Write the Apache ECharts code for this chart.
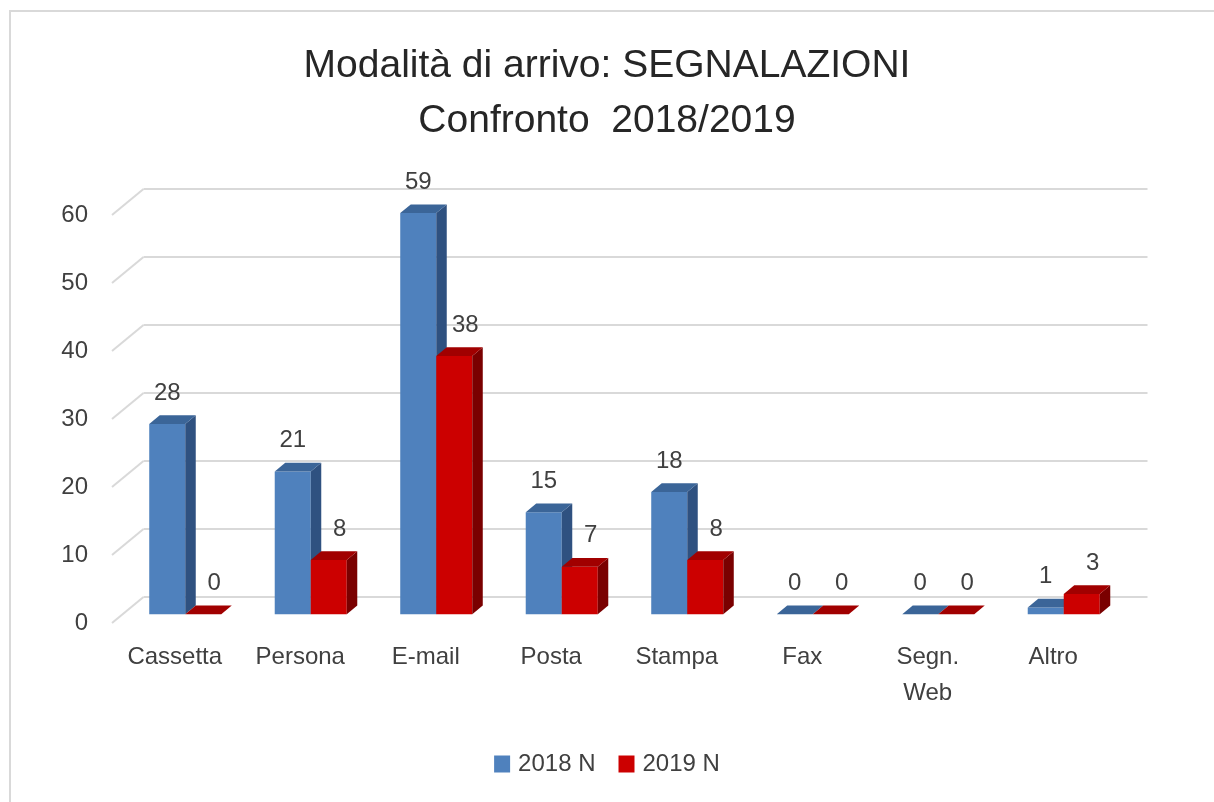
<!DOCTYPE html>
<html>
<head>
<meta charset="utf-8">
<script src="https://cdn.jsdelivr.net/npm/echarts@6/dist/echarts.min.js"></script>
<style>
  html, body { margin: 0; padding: 0; background: #ffffff; }
  #chart { width: 1214px; height: 802px; }
</style>
</head>
<body>
<div id="chart"></div>
<script>
// ---- data ----
const categories = ['Cassetta', 'Persona', 'E-mail', 'Posta', 'Stampa', 'Fax', 'Segn.\nWeb', 'Altro'];
const values2018 = [28, 21, 59, 15, 18, 0, 0, 1];
const values2019 = [0, 8, 38, 7, 8, 0, 0, 3];
const seriesNames = ['2018 N', '2019 N'];
const yTicks = [0, 10, 20, 30, 40, 50, 60];

// ---- styling ----
const FONT = 'Liberation Sans, Arial, sans-serif';
const DX = 10.5, DY = -8.7;           // one depth step of the 3D look
const palettes = [
  { front: '#4f81bd', top: '#3b6598', side: '#2f5180' },
  { front: '#cc0000', top: '#a10000', side: '#7a0000' }
];

const chart = echarts.init(document.getElementById('chart'));

function gridRender(params, api) {
  const cs = params.coordSys;
  const v = api.value(1);
  const y = api.coord([0, v])[1];
  const bx = cs.x + 3 * DX, by = y + 3 * DY;
  return {
    type: 'group',
    children: [
      { type: 'line', shape: { x1: cs.x, y1: y, x2: bx, y2: by },
        style: { stroke: '#d9d9d9', lineWidth: 2 } },
      { type: 'line', shape: { x1: bx, y1: by, x2: cs.x + cs.width + 3 * DX, y2: by },
        style: { stroke: '#d9d9d9', lineWidth: 2 } }
    ]
  };
}

function makeBarRender(sIdx) {
  const pal = palettes[sIdx];
  return function (params, api) {
    const i = api.value(0);
    const v = api.value(1);
    const top = api.coord([i, v]);
    const base = api.coord([i, 0]);
    const band = api.size([1, 0])[0];
    const w = band * 0.287;
    const x0 = (sIdx === 0 ? top[0] - w : top[0]) + DX;
    const yt = top[1] + DY;
    const yb = base[1] + DY;
    const children = [];
    if (yb - yt > 0.5) {
      children.push({ type: 'rect', shape: { x: x0, y: yt, width: w, height: yb - yt },
        style: { fill: pal.front } });
      children.push({ type: 'polygon', shape: { points: [
        [x0 + w, yt], [x0 + w + DX, yt + DY], [x0 + w + DX, yb + DY], [x0 + w, yb]] },
        style: { fill: pal.side } });
    }
    children.push({ type: 'polygon', shape: { points: [
      [x0, yt], [x0 + w, yt], [x0 + w + DX, yt + DY], [x0 + DX, yt + DY]] },
      style: { fill: pal.top } });
    children.push({ type: 'text', style: {
      text: String(v), x: x0 + w / 2 + (sIdx === 1 ? 11 : 0), y: yt - 31,
      align: 'center', verticalAlign: 'middle',
      fontSize: 24, fontFamily: FONT, fill: '#404040' } });
    return { type: 'group', children: children };
  };
}

const option = {
  backgroundColor: '#ffffff',
  animation: false,
  graphic: [{
    type: 'rect', silent: true,
    shape: { x: 10, y: 11, width: 1230, height: 820 },
    style: { fill: 'none', stroke: '#d9d9d9', lineWidth: 2 }
  }],
  title: {
    text: 'Modalità di arrivo: SEGNALAZIONI\nConfronto  2018/2019',
    left: 'center', top: 34,
    textStyle: { fontFamily: FONT, fontSize: 39, fontWeight: 'normal', color: '#262626', lineHeight: 55 }
  },
  legend: {
    data: seriesNames,
    left: 'center', top: 747,
    itemWidth: 16, itemHeight: 17, itemGap: 23, icon: 'rect',
    textStyle: { fontFamily: FONT, fontSize: 24, color: '#404040', padding: [0, 0, 0, 3] }
  },
  grid: { left: 112, right: 98, top: 215, bottom: 179 },
  xAxis: {
    type: 'category', data: categories,
    axisLine: { show: false }, axisTick: { show: false }, splitLine: { show: false },
    axisLabel: { fontFamily: FONT, fontSize: 24, color: '#404040', lineHeight: 36, margin: 16, interval: 0 }
  },
  yAxis: {
    type: 'value', min: 0, max: 60, interval: 10,
    axisLine: { show: false }, axisTick: { show: false }, splitLine: { show: false },
    axisLabel: { fontFamily: FONT, fontSize: 24, color: '#404040', margin: 24 }
  },
  series: [
    { type: 'custom', name: '_grid', z: 1, silent: true,
      renderItem: gridRender, data: yTicks.map(v => [0, v]), legendHoverLink: false },
    { type: 'custom', name: seriesNames[0], z: 2, itemStyle: { color: palettes[0].front },
      renderItem: makeBarRender(0), data: values2018.map((v, i) => [i, v]) },
    { type: 'custom', name: seriesNames[1], z: 3, itemStyle: { color: palettes[1].front },
      renderItem: makeBarRender(1), data: values2019.map((v, i) => [i, v]) }
  ]
};
chart.setOption(option);
</script>
</body>
</html>
